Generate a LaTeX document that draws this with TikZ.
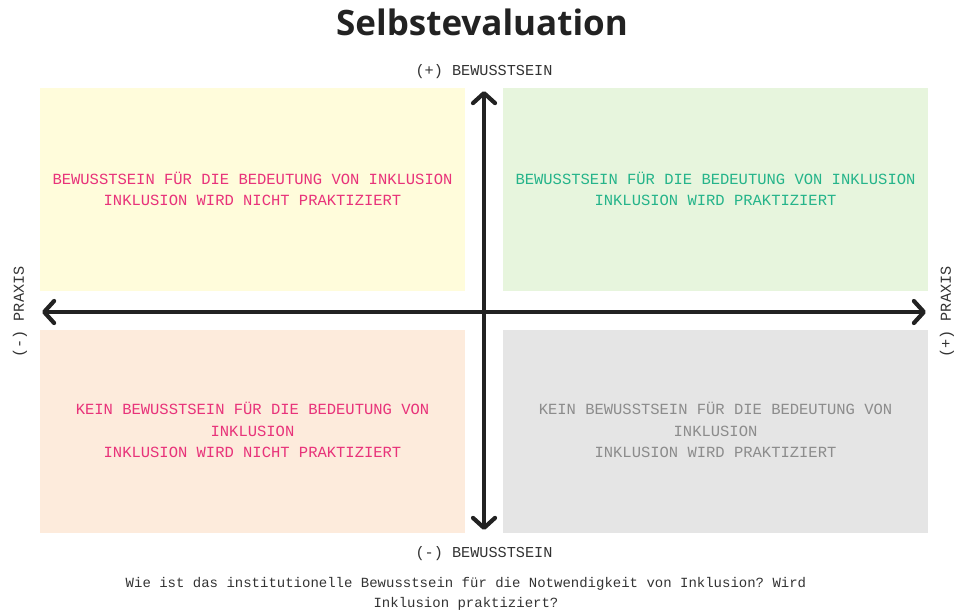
\documentclass[tikz,border=0pt]{standalone}
\usepackage{fontspec}
\setmainfont{Open Sans}
\setmonofont{Liberation Mono}
\usetikzlibrary{arrows.meta}
\definecolor{qyellow}{HTML}{FFFCDB}
\definecolor{qgreen}{HTML}{E7F5DD}
\definecolor{qpeach}{HTML}{FDEBDC}
\definecolor{qgray}{HTML}{E5E5E5}
\definecolor{tpink}{HTML}{E8337A}
\definecolor{tgreen}{HTML}{25B48A}
\definecolor{tgray}{HTML}{8C8C8C}
\definecolor{axis}{HTML}{222222}
\definecolor{lab}{HTML}{333333}
\tikzset{
  quad/.style={minimum width=425pt, minimum height=203pt, inner sep=0pt, anchor=north west},
  qtext/.style={font=\fontsize{15.5}{21.5}\selectfont\ttfamily, align=center},
  axlab/.style={font=\fontsize{15.2}{18}\selectfont\ttfamily, text=lab},
  axisarrow/.style={draw=axis, line width=4.2pt, {Straight Barb[length=10pt,width=22pt,line cap=round,line join=round]}-{Straight Barb[length=10pt,width=22pt,line cap=round,line join=round]}}
}
\begin{document}
\begin{tikzpicture}[x=1pt,y=-1pt]
\useasboundingbox (0,0) rectangle (960,611);
\node[font=\fontsize{35}{40}\selectfont\bfseries, text=axis] (title) at (482,22) {Selbstevaluation};
\node[quad, fill=qyellow] (tl) at (40,88) {};
\node[quad, fill=qgreen] (tr) at (503,88) {};
\node[quad, fill=qpeach] (bl) at (40,330) {};
\node[quad, fill=qgray] (br) at (503,330) {};
\node[qtext, text=tpink] (tlt) at (252.5,189) {BEWUSSTSEIN FÜR DIE BEDEUTUNG VON INKLUSION\\INKLUSION WIRD NICHT PRAKTIZIERT};
\node[qtext, text=tgreen] (trt) at (715.5,189) {BEWUSSTSEIN FÜR DIE BEDEUTUNG VON INKLUSION\\INKLUSION WIRD PRAKTIZIERT};
\node[qtext, text=tpink] (blt) at (252.5,430) {KEIN BEWUSSTSEIN FÜR DIE BEDEUTUNG VON\\INKLUSION\\INKLUSION WIRD NICHT PRAKTIZIERT};
\node[qtext, text=tgray] (brt) at (715.5,430) {KEIN BEWUSSTSEIN FÜR DIE BEDEUTUNG VON\\INKLUSION\\INKLUSION WIRD PRAKTIZIERT};
\coordinate (top) at (484,91);
\coordinate (bot) at (484,530);
\coordinate (lft) at (42,312);
\coordinate (rgt) at (926,312);
\draw[axisarrow] (top) -- (bot);
\draw[axisarrow] (lft) -- (rgt);
\node[axlab] (plusb) at (484,71.5) {(+) BEWUSSTSEIN};
\node[axlab] (minusb) at (484,553.5) {(-) BEWUSSTSEIN};
\node[axlab, rotate=90] (minusp) at (20,312) {(-) PRAXIS};
\node[axlab, rotate=90] (plusp) at (947,312) {(+) PRAXIS};
\node[font=\fontsize{14}{20}\selectfont\ttfamily, text=lab, align=center] (q) at (466,594) {Wie ist das institutionelle Bewusstsein für die Notwendigkeit von Inklusion? Wird\\Inklusion praktiziert?};
\end{tikzpicture}
\end{document}
